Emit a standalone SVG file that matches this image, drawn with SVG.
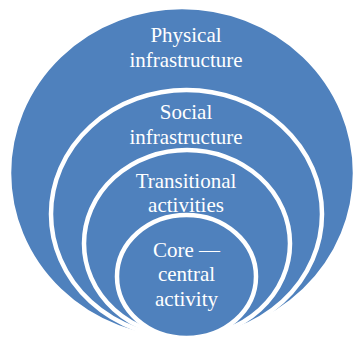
<svg xmlns="http://www.w3.org/2000/svg" width="356" height="342" viewBox="0 0 356 342">
  <style>
    .ring { fill: #4F81BD; stroke: #FFFFFF; stroke-width: 4.5; }
    .lbl { font-family: "Liberation Serif", "Times New Roman", serif; font-size: 21px; fill: #FFFFFF; text-anchor: middle; }
  </style>
  <rect width="356" height="342" fill="#FFFFFF"/>
  <g id="physical">
    <ellipse class="ring" cx="182" cy="173" rx="173" ry="166" stroke="none"/>
    <text class="lbl" x="186" y="42">Physical</text>
    <text class="lbl" x="186" y="67">infrastructure</text>
  </g>
  <g id="social">
    <ellipse class="ring" cx="186.5" cy="214" rx="135.5" ry="124"/>
    <text class="lbl" x="186" y="119">Social</text>
    <text class="lbl" x="186" y="144">infrastructure</text>
  </g>
  <g id="transitional">
    <ellipse class="ring" cx="187" cy="243.5" rx="103" ry="93.5"/>
    <text class="lbl" x="186" y="188">Transitional</text>
    <text class="lbl" x="186" y="212">activities</text>
  </g>
  <g id="core">
    <ellipse class="ring" cx="186.5" cy="276.5" rx="69.5" ry="61.5"/>
    <text class="lbl" x="186.5" y="257">Core —</text>
    <text class="lbl" x="186.5" y="281">central</text>
    <text class="lbl" x="186.5" y="306">activity</text>
  </g>
  <g id="connectors"/>
</svg>
